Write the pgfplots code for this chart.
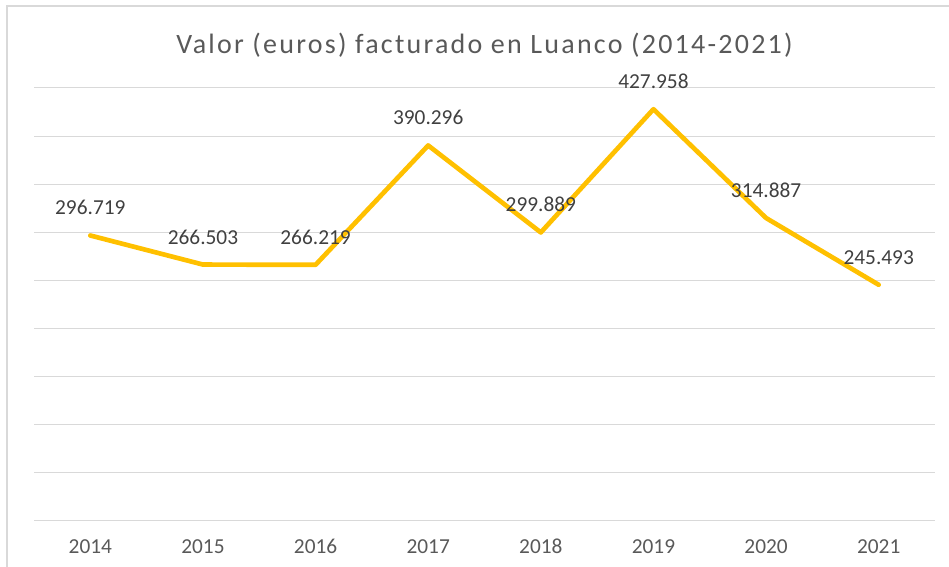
\documentclass[border=0pt]{standalone}
\usepackage{fontspec}
\setmainfont{Carlito}
\newfontfamily\titlefont[LetterSpace=8]{Carlito}
\usepackage{pgfplots}
\pgfplotsset{compat=1.18}
\definecolor{gridcol}{HTML}{D9D9D9}
\definecolor{framecol}{HTML}{D9D9D9}
\definecolor{titlecol}{HTML}{595959}
\definecolor{tickcol}{HTML}{595959}
\definecolor{labcol}{HTML}{404040}
\definecolor{linecol}{HTML}{FFC000}
\begin{document}
\begin{tikzpicture}
\path[use as bounding box] (-25.5pt,-34.5pt) rectangle (686.25pt,390.75pt);
\draw[framecol, line width=1.5pt] (-20.25pt,-40pt) -- (-20.25pt,386.25pt) -- (700pt,386.25pt);
\begin{axis}[
  at={(0,0)}, anchor=south west,
  scale only axis, width=675.75pt, height=324.75pt,
  xmin=-0.5, xmax=7.5, ymin=0, ymax=450000,
  scaled y ticks=false,
  xtick={0,1,2,3,4,5,6,7},
  xticklabels={2014,2015,2016,2017,2018,2019,2020,2021},
  ytick={0,50000,100000,150000,200000,250000,300000,350000,400000,450000},
  yticklabels={},
  ymajorgrids,
  major grid style={gridcol, line width=0.75pt},
  axis line style={draw=none},
  tick style={draw=none},
  major tick length=0pt,
  clip=false,
  xticklabel style={anchor=base, yshift=-24.75pt, text=tickcol, font=\fontsize{16}{19}\selectfont},
  title={Valor (euros) facturado en Luanco (2014-2021)},
  title style={at={(0.5,1)}, anchor=base, yshift=19.5pt, text=titlecol, font=\titlefont\fontsize{21}{25}\selectfont},
  /pgf/number format/assume math mode=true,
  nodes near coords={\pgfmathprintnumber[fixed, precision=0, 1000 sep={.}]{\pgfplotspointmeta}},
  every node near coord/.append style={anchor=base, yshift=15.4pt, inner sep=0pt, text=labcol, font=\fontsize{16}{19}\selectfont},
]
\addplot[linecol, line width=3.5pt, line cap=round, line join=round, mark=none] coordinates {
  (0,296719) (1,266503) (2,266219) (3,390296) (4,299889) (5,427958) (6,314887) (7,245493)
};
\end{axis}
\end{tikzpicture}
\end{document}
